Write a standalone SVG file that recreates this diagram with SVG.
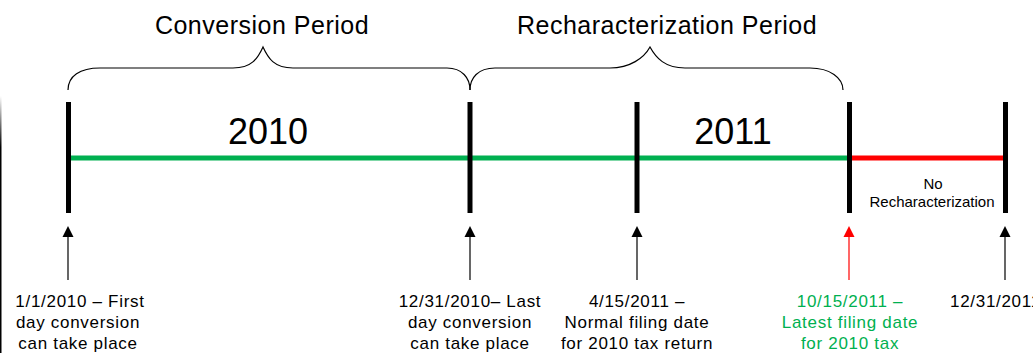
<svg xmlns="http://www.w3.org/2000/svg" width="1033" height="353" viewBox="0 0 1033 353">
<style>
.t{font-family:"Liberation Sans",Arial,sans-serif;fill:#000}
.title{font-size:25px;letter-spacing:0.5px;text-anchor:middle}
.year{font-size:36px;text-anchor:middle}
.lbl{font-size:17px;letter-spacing:0.7px;text-anchor:middle}
.small{font-size:15px;text-anchor:middle}
.tick{stroke:#000;stroke-width:5}
.brace{fill:none;stroke:#000;stroke-width:1.2}
.arr{stroke:#000;stroke-width:1.2}
</style>
<defs>
<marker id="ah" markerWidth="11" markerHeight="11" viewBox="0 0 11 11" refX="5.5" refY="0" orient="auto-start-reverse" markerUnits="userSpaceOnUse">
<path d="M0,0 L5.5,11 L11,0 Z" fill="#000" transform="rotate(180 5.5 5.5)"/>
</marker>
<linearGradient id="lg" x1="0" y1="0" x2="0" y2="1">
<stop offset="0" stop-color="#fff"/>
<stop offset="0.2" stop-color="#000"/>
<stop offset="1" stop-color="#000"/>
</linearGradient>
</defs>
<rect x="0" y="96" width="1.5" height="257" fill="url(#lg)"/>
<g id="titles">
<text class="t title" x="262" y="34">Conversion Period</text>
<text class="t title" x="667" y="34">Recharacterization Period</text>
</g>
<g id="braces">
<path class="brace" d="M68,90 C68,76 80,68 100,68 L233,68 C252,68 258,58 263,47 C268,58 274,68 293,68 L447,68 C462,68 470,78 470,90"/>
<path class="brace" d="M470,90 C470,78 478,68 495,68 L610,68 C630,68 644,58 650,47 C656,58 665,68 685,68 L810,68 C830,68 843,78 843,90"/>
</g>
<g id="timeline">
<line x1="68" y1="158" x2="849" y2="158" stroke="#00B050" stroke-width="5"/>
<line x1="849" y1="158" x2="1004" y2="158" stroke="#FF0000" stroke-width="5"/>
<line class="tick" x1="68.5" y1="102" x2="68.5" y2="213"/>
<line class="tick" x1="470" y1="102" x2="470" y2="213"/>
<line class="tick" x1="637" y1="102" x2="637" y2="213"/>
<line class="tick" x1="849.5" y1="102" x2="849.5" y2="213"/>
<line class="tick" x1="1005.5" y1="102" x2="1005.5" y2="213"/>
<text class="t year" x="268" y="144">2010</text>
<text class="t year" x="733" y="144">2011</text>
<text class="t small" x="933" y="189">No</text>
<text class="t small" x="932" y="207">Recharacterization</text>
</g>
<g id="connectors">
<line class="arr" x1="68" y1="280" x2="68" y2="236"/>
<path d="M62.5,237 L68,226 L73.5,237 Z" fill="#000"/>
<line class="arr" x1="470" y1="280" x2="470" y2="236"/>
<path d="M464.5,237 L470,226 L475.5,237 Z" fill="#000"/>
<line class="arr" x1="637" y1="280" x2="637" y2="236"/>
<path d="M631.5,237 L637,226 L642.5,237 Z" fill="#000"/>
<line x1="849" y1="280" x2="849" y2="236" stroke="#FF0000" stroke-width="1.2"/>
<path d="M843.5,237 L849,226 L854.5,237 Z" fill="#FF0000"/>
<line class="arr" x1="1005" y1="280" x2="1005" y2="236"/>
<path d="M999.5,237 L1005,226 L1010.5,237 Z" fill="#000"/>
</g>
<g id="label1">
<text class="t lbl" x="80" y="307">1/1/2010 – First</text>
<text class="t lbl" x="78" y="328">day conversion</text>
<text class="t lbl" x="78" y="349">can take place</text>
</g>
<g id="label2">
<text class="t lbl" x="470" y="307">12/31/2010– Last</text>
<text class="t lbl" x="470" y="328">day conversion</text>
<text class="t lbl" x="470" y="349">can take place</text>
</g>
<g id="label3">
<text class="t lbl" x="637" y="307">4/15/2011 –</text>
<text class="t lbl" x="637" y="328">Normal filing date</text>
<text class="t lbl" x="637" y="349">for 2010 tax return</text>
</g>
<g id="label4">
<text class="t lbl" x="850" y="307" style="fill:#00B050">10/15/2011 –</text>
<text class="t lbl" x="850" y="328" style="fill:#00B050">Latest filing date</text>
<text class="t lbl" x="850" y="349" style="fill:#00B050">for 2010 tax</text>
</g>
<g id="label5">
<text class="t lbl" x="950" y="307" style="text-anchor:start">12/31/2011</text>
</g>
</svg>
